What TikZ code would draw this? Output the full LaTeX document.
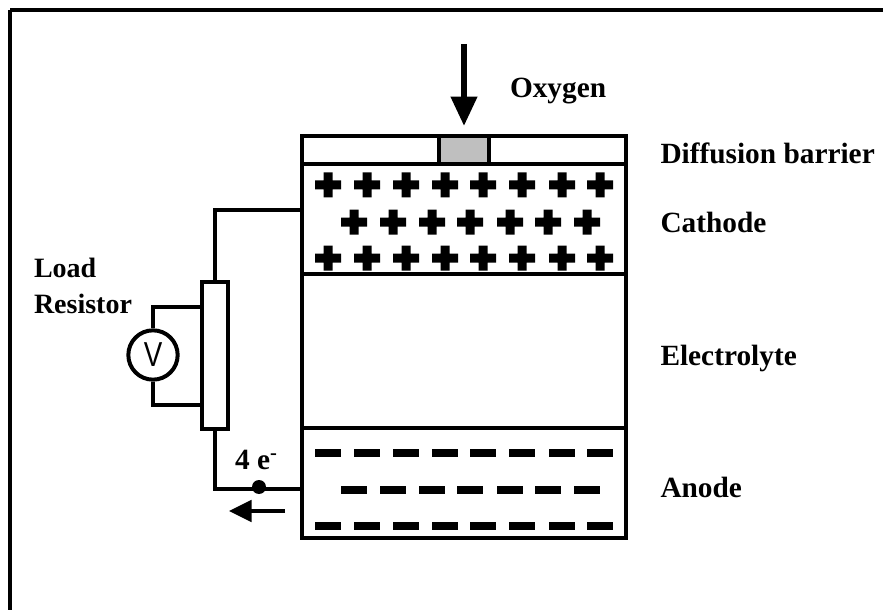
\documentclass[tikz,border=0pt]{standalone}
\usepackage{fontspec}
\setmainfont{Liberation Serif}
\setsansfont{Liberation Sans}
\usetikzlibrary{arrows.meta, positioning}
\newcommand{\plusmark}[1]{\fill (#1) ++(-13,-4.5) rectangle ++(26,9) (#1) ++(-4.5,-12.5) rectangle ++(9,25);}
\newcommand{\minusmark}[1]{\fill (#1) ++(-13,-4.25) rectangle ++(26,8.5);}
\begin{document}
\begin{tikzpicture}[x=0.75pt, y=-0.75pt, line width=3pt,
      every node/.style={font=\fontsize{22}{27}\selectfont\bfseries},
      lab/.style={anchor=west, inner sep=0pt},
      layer/.style={draw, line width=3pt, fill=white, inner sep=0pt},
      bigarrow/.style={-{Triangle[length=22pt, width=19pt]}, line width=4.5pt}]
    \useasboundingbox (0,0) rectangle (883,610);
    \draw (10,10) -- (883,10) (10,10) -- (10,610);
    % cell layers
    \node[layer, minimum width=243pt, minimum height=21pt] (barrier) at (464,150) {};
    \node[layer, minimum width=243pt, minimum height=82.5pt] (cathode) at (464,219) {};
    \node[layer, minimum width=243pt, minimum height=115.5pt] (electrolyte) at (464,351) {};
    \node[layer, minimum width=243pt, minimum height=82.5pt] (anode) at (464,483) {};
    \node[layer, fill=black!25, minimum width=37.5pt, minimum height=21pt] (plug) at (464,150) {};
    % charges
    \foreach \x in {328,367,406,445,483,522,562,600} {
      \plusmark{\x,185}
      \plusmark{\x,258}
      \minusmark{\x,453}
      \minusmark{\x,526}
    }
    \foreach \x in {354,393,432,470,510,548,587} {
      \plusmark{\x,222}
      \minusmark{\x,490}
    }
    % oxygen arrow
    \coordinate (inlet) at (464,44);
    \draw[bigarrow] (inlet) -- (plug.north |- 0,126);
    % load circuit
    \node[layer, minimum width=19.5pt, minimum height=110pt] (resistor) at (215,355.5) {};
    \node[draw, circle, fill=white, inner sep=0pt, minimum size=37pt, font=\fontsize{26}{26}\selectfont\sffamily] (meter) at (153,355) {\scalebox{0.8}[1]{V}};
    \draw (cathode.west |- 0,210) -- (215,210) -- (resistor.north);
    \draw (resistor.south) -- (215,489) -- (anode.west |- 0,489);
    \draw (resistor.west |- 0,307) -- (153,307) -- (meter.north);
    \draw (resistor.west |- 0,405) -- (153,405) -- (meter.south);
    \node[circle, fill, inner sep=0pt, minimum size=10.5pt] (electron) at (259,487) {};
    \coordinate (flowstart) at (285,511);
    \coordinate (flowend) at (229,511);
    \draw[-{Triangle[length=17pt, width=16pt]}] (flowstart) -- (flowend);
    % labels
    \node[lab] (oxygenlab) at (508,91) {Oxygen};
    \node[lab] (barrierlab) at (658.5,153) {Diffusion barrier};
    \node[lab] (cathodelab) at (658.5,222) {Cathode};
    \node[lab] (electrolytelab) at (658.5,358) {Electrolyte};
    \node[lab] (anodelab) at (658.5,487) {Anode};
    \node[lab, align=left, font=\fontsize{21}{27.5}\selectfont\bfseries] (loadlab) at (32,286) {Load\\Resistor};
    \node[lab] (electronlab) at (233,460) {4 e\textsuperscript{-}};
\end{tikzpicture}
\end{document}
